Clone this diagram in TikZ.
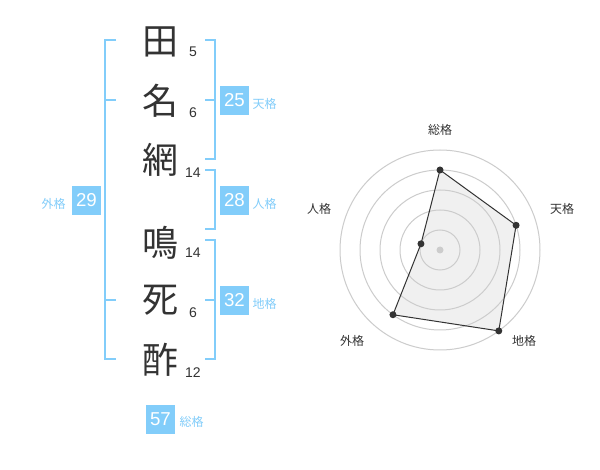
\documentclass[tikz,border=0pt]{standalone}
\usepackage{fontspec}
\usetikzlibrary{calc}
\setmainfont{Liberation Sans}
\newfontfamily\jpfont{Noto Sans CJK JP}
\definecolor{kakublue}{RGB}{130,205,250}
\definecolor{inkgray}{RGB}{51,51,51}
\definecolor{ringgray}{RGB}{204,204,204}
\definecolor{areagray}{RGB}{240,240,240}
\tikzset{every picture/.style={line width=0.75pt}}

\begin{document}
\begin{tikzpicture}[x=0.75pt,y=0.75pt,yscale=-1,xscale=1,
  kanji/.style={inner sep=0pt,text=inkgray,font=\jpfont\fontsize{27}{27}\selectfont},
  strokes/.style={inner sep=0pt,text=inkgray,font=\fontsize{10.5}{10.5}\selectfont},
  kakubox/.style={fill=kakublue,text=white,minimum width=21.75pt,minimum height=21.75pt,inner sep=0pt,font=\fontsize{14}{14}\selectfont},
  kakulabel/.style={inner sep=0pt,text=kakublue,font=\jpfont\fontsize{9}{9}\selectfont},
  axislabel/.style={inner sep=0pt,text=inkgray,font=\jpfont\fontsize{9}{9}\selectfont},
  bracket/.style={draw=kakublue,line width=1.5pt},
  vertexdot/.style={circle,fill=inkgray,inner sep=0pt,minimum size=5.25pt}]
\useasboundingbox[fill=white] (0,0) rectangle (600,470);

% Name characters
\node [kanji] (k1) at (160,42) {田};
\node [kanji] (k2) at (160,101) {名};
\node [kanji] (k3) at (160,160) {網};
\node [kanji] (k4) at (160,243) {鳴};
\node [kanji] (k5) at (160,300) {死};
\node [kanji] (k6) at (160,360) {酢};

% Stroke counts
\node [strokes] (s1) at (193,52) {5};
\node [strokes] (s2) at (193,113) {6};
\node [strokes] (s3) at (193,173) {14};
\node [strokes] (s4) at (193,253) {14};
\node [strokes] (s5) at (193,313) {6};
\node [strokes] (s6) at (193,373) {12};

%Brackets
\draw [bracket] (116,40) -- (105,40) -- (105,359) -- (116,359) ;
\draw [bracket] (105,100) -- (116,100) ;
\draw [bracket] (105,300) -- (116,300) ;
\draw [bracket] (205,40) -- (215,40) -- (215,159) -- (205,159) ;
\draw [bracket] (205,100) -- (215,100) ;
\draw [bracket] (205,170) -- (215,170) -- (215,229) -- (205,229) ;
\draw [bracket] (205,240) -- (215,240) -- (215,359) -- (205,359) ;
\draw [bracket] (205,300) -- (215,300) ;

% Scores
\node [kakubox] (ten) at (234.5,100.5) {25};
\node [kakulabel, anchor=west] (tenlabel) at (252,103.5) {天格};
\node [kakubox] (jin) at (234.5,200.5) {28};
\node [kakulabel, anchor=west] (jinlabel) at (252,203.5) {人格};
\node [kakubox] (chi) at (234.5,300.5) {32};
\node [kakulabel, anchor=west] (chilabel) at (252,303.5) {地格};
\node [kakubox] (gai) at (86.5,200.5) {29};
\node [kakulabel, anchor=east] (gailabel) at (66,203.5) {外格};
\node [kakubox] (so) at (160.5,419) {57};
\node [kakulabel, anchor=west] (solabel) at (179,422) {総格};

% Radar chart
\coordinate (c) at (440,250);
\coordinate (vso) at ($(c)+(-90:80)$);
\coordinate (vten) at ($(c)+(-18:80)$);
\coordinate (vchi) at ($(c)+(54:100)$);
\coordinate (vgai) at ($(c)+(126:80)$);
\coordinate (vjin) at ($(c)+(198:20)$);
\fill [areagray] (vso) -- (vten) -- (vchi) -- (vgai) -- (vjin) -- cycle ;
\foreach \r in {20,40,...,100}
  \draw [ringgray] (c) circle [radius=\r] ;
\fill [ringgray] (c) circle [radius=3.5] ;
\draw [inkgray] (vso) -- (vten) -- (vchi) -- (vgai) -- (vjin) -- cycle ;
\foreach \v in {vso,vten,vchi,vgai,vjin}
  \node [vertexdot] at (\v) {};

\node [axislabel] (aso) at (440,130) {総格};
\node [axislabel] (aten) at (562,209) {天格};
\node [axislabel] (achi) at (524,341) {地格};
\node [axislabel] (agai) at (352,341) {外格};
\node [axislabel] (ajin) at (319,209) {人格};

\end{tikzpicture}
\end{document}
